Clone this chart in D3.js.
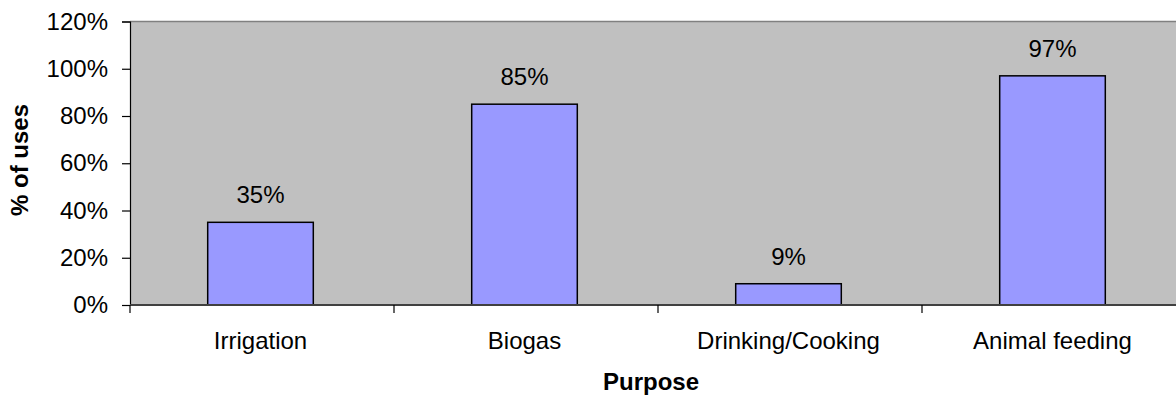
<!DOCTYPE html>
<html>
<head>
<meta charset="utf-8">
<script src="https://cdn.jsdelivr.net/npm/d3@7"></script>
<style>
  html, body { margin: 0; padding: 0; background: #fff; }
  svg { display: block; font-family: "Liberation Sans", Arial, sans-serif; }
</style>
</head>
<body>
<svg id="chart" width="1176" height="397"></svg>
<script>
// Share of households using the water for each purpose
const categories = ["Irrigation", "Biogas", "Drinking/Cooking", "Animal feeding"];
const values = [35, 85, 9, 97];
const yTicks = [0, 20, 40, 60, 80, 100, 120];

const FS = 24;
const svg = d3.select("#chart");
const margin = { left: 130, top: 21.5, bottom: 92 };
const plotW = 1056;
const plotH = 397 - margin.top - margin.bottom;

const x = d3.scaleBand().domain(categories).range([margin.left, margin.left + plotW])
  .paddingInner(0.6).paddingOuter(0.3);
const band = d3.scaleBand().domain(categories).range([margin.left, margin.left + plotW]);
const y = d3.scaleLinear().domain([0, 120]).range([margin.top + plotH, margin.top]);

// plot area background
svg.append("rect")
  .attr("x", margin.left).attr("y", margin.top)
  .attr("width", plotW).attr("height", plotH)
  .attr("fill", "#c0c0c0");
svg.append("line")
  .attr("x1", margin.left).attr("x2", margin.left + plotW)
  .attr("y1", margin.top).attr("y2", margin.top)
  .attr("stroke", "#808080").attr("stroke-width", 1.5);

// bars
svg.selectAll("rect.bar").data(values).join("rect")
  .attr("class", "bar")
  .attr("x", (d, i) => x(categories[i]) - 1.5)
  .attr("width", x.bandwidth())
  .attr("y", d => y(d))
  .attr("height", d => y(0) - y(d))
  .attr("fill", "#9999ff")
  .attr("stroke", "#000").attr("stroke-width", 1.5);

// value labels
svg.selectAll("text.val").data(values).join("text")
  .attr("class", "val")
  .attr("x", (d, i) => x(categories[i]) - 1.5 + x.bandwidth() / 2)
  .attr("y", d => y(d) - 19)
  .attr("text-anchor", "middle")
  .attr("font-size", FS)
  .attr("fill", "#000")
  .text(d => d + "%");

// y axis
const yAxis = svg.append("g")
  .attr("transform", `translate(${margin.left},0)`)
  .call(d3.axisLeft(y).tickValues(yTicks).tickFormat(d => d + "%").tickSize(8).tickPadding(14));
yAxis.select(".domain").attr("stroke", "#000").attr("stroke-width", 1.2);
yAxis.selectAll(".tick line").attr("stroke", "#000").attr("stroke-width", 1.2);
yAxis.selectAll(".tick text").attr("font-size", FS).attr("fill", "#000")
  .attr("font-family", "Liberation Sans, Arial, sans-serif");

// x axis: base line, separators between categories, labels
const baseY = y(0);
svg.append("line")
  .attr("x1", margin.left).attr("x2", margin.left + plotW)
  .attr("y1", baseY).attr("y2", baseY)
  .attr("stroke", "#404040").attr("stroke-width", 2);
const seps = categories.map(c => band(c)).concat([margin.left + plotW]);
svg.selectAll("line.sep").data(seps).join("line")
  .attr("class", "sep")
  .attr("x1", d => d).attr("x2", d => d)
  .attr("y1", baseY).attr("y2", baseY + 8)
  .attr("stroke", "#000").attr("stroke-width", 1.2);
svg.selectAll("text.cat").data(categories).join("text")
  .attr("class", "cat")
  .attr("x", d => band(d) + band.bandwidth() / 2 - 1.5)
  .attr("y", baseY + 44)
  .attr("text-anchor", "middle")
  .attr("font-size", FS)
  .attr("fill", "#000")
  .text(d => d);

// axis titles
svg.append("text")
  .attr("x", 651).attr("y", 390)
  .attr("text-anchor", "middle")
  .attr("font-size", FS).attr("font-weight", "bold")
  .text("Purpose");
svg.append("text")
  .attr("transform", `translate(28,160) rotate(-90)`)
  .attr("text-anchor", "middle")
  .attr("font-size", FS).attr("font-weight", "bold")
  .text("% of uses");
</script>
</body>
</html>
